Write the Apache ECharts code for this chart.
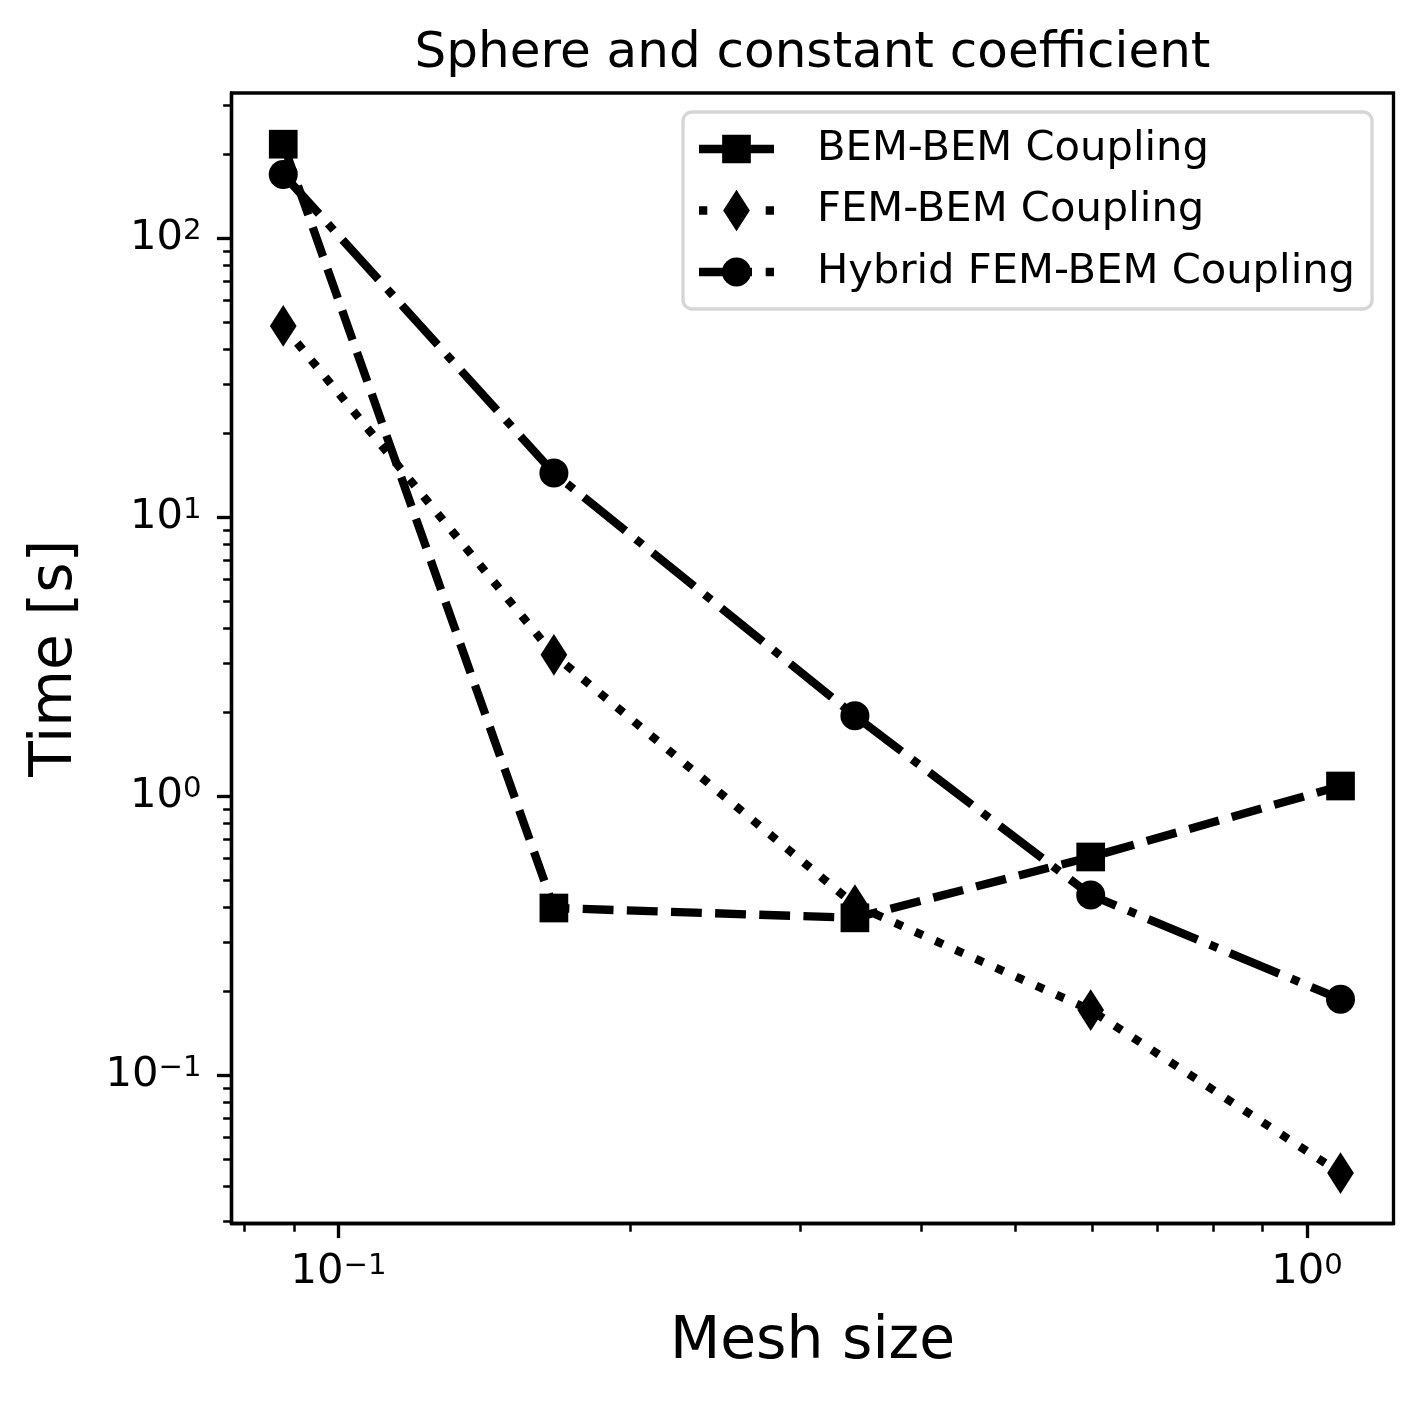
<!DOCTYPE html>
<html><head><meta charset="utf-8">
<script src="https://cdn.jsdelivr.net/npm/echarts@6/dist/echarts.min.js"></script>
<style>html,body{margin:0;padding:0;background:#fff}#c{width:1423px;height:1401px}</style>
</head><body><div id="c"></div>
<script>
// ---- data ----
const meshSize = [0.0877, 0.1669, 0.3414, 0.598, 1.083];
const bemBem   = [217.5, 0.397, 0.366, 0.605, 1.087];
const femBem   = [48.5, 3.21, 0.407, 0.171, 0.0445];
const hybrid   = [169.5, 14.4, 1.94, 0.442, 0.187];
const seriesNames = ['BEM-BEM Coupling', 'FEM-BEM Coupling', 'Hybrid FEM-BEM Coupling'];
const xMajorTicks = [0.1, 1];
const xMinorTicks = [0.08, 0.09, 0.2, 0.3, 0.4, 0.5, 0.6, 0.7, 0.8, 0.9];
const yMajorTicks = [0.1, 1, 10, 100];
const yMinorTicks = [0.03, 0.04, 0.05, 0.06, 0.07, 0.08, 0.09,
                     0.2, 0.3, 0.4, 0.5, 0.6, 0.7, 0.8, 0.9,
                     2, 3, 4, 5, 6, 7, 8, 9,
                     20, 30, 40, 50, 60, 70, 80, 90, 200, 300];
const xRange = [0.07755, 1.2284];
const yRange = [0.02935, 331.9];

// ---- styling ----
const PT = 300 / 72;
const FONT = 'DejaVu Sans';
const LW = 2 * PT;
const pairs = ys => meshSize.map((x, i) => [x, ys[i]]);

function powLabel(v) {
  const e = Math.round(Math.log10(v));
  return '{b|10}{s|' + String(e).replace('-', '\u2212') + '}';
}
const richLabel = {
  b: { fontFamily: FONT, fontSize: 10 * PT, lineHeight: 42, color: '#000' },
  s: { fontFamily: FONT, fontSize: 7 * PT, lineHeight: 17, verticalAlign: 'top', color: '#000' }
};

// legend handle icons (line sample + marker), 75px wide
const iconBem = 'path://M0,-4.15L31,-4.15L31,4.15L0,4.15Z M23.15,-14.35L51.85,-14.35L51.85,14.35L23.15,14.35Z M44,-4.15L75,-4.15L75,4.15L44,4.15Z';
const iconFem = 'path://M0,-4.15L8.3,-4.15L8.3,4.15L0,4.15Z M37.5,-20.85L50.85,0L37.5,20.85L24.15,0Z M66.7,-4.15L75,-4.15L75,4.15L66.7,4.15Z';
const iconHyb = 'path://M0,-4.15L53,-4.15L53,4.15L0,4.15Z M23,0A14.5,14.5 0 1,1 52,0A14.5,14.5 0 1,1 23,0Z M66.7,-4.15L75,-4.15L75,4.15L66.7,4.15Z';

const axisCommon = { type: 'log', logBase: 10 };
const chart = echarts.init(document.getElementById('c'), null, { renderer: 'canvas' });
chart.setOption({
  backgroundColor: '#fff',
  animation: false,
  title: {
    text: 'Sphere and constant coefficient',
    left: 812.5, top: 29, textAlign: 'center', padding: 0,
    textStyle: { fontFamily: FONT, fontSize: 12 * PT, fontWeight: 'normal', color: '#000' }
  },
  grid: {
    left: 231.5, right: 29.5, top: 93, bottom: 177.5,
    show: true, borderColor: '#000', borderWidth: 0.8 * PT, backgroundColor: 'transparent'
  },
  legend: {
    left: 683, top: 112, orient: 'vertical',
    padding: [16, 17, 16, 16],
    itemWidth: 75, itemHeight: 42, itemGap: 19.5,
    symbolKeepAspect: true,
    selectedMode: false,
    backgroundColor: '#fff',
    borderColor: '#d6d6d6', borderWidth: 0.8 * PT, borderRadius: 9,
    itemStyle: { borderWidth: 0 },
    textStyle: { fontFamily: FONT, fontSize: 10 * PT, color: '#000', lineHeight: 42, padding: [0, 0, 0, 38] },
    data: [
      { name: seriesNames[0], icon: iconBem },
      { name: seriesNames[1], icon: iconFem },
      { name: seriesNames[2], icon: iconHyb }
    ]
  },
  xAxis: [
    Object.assign({}, axisCommon, {
      min: xRange[0], max: xRange[1], position: 'bottom',
      name: 'Mesh size', nameLocation: 'middle', nameGap: 90,
      nameTextStyle: { fontFamily: FONT, fontSize: 14 * PT, color: '#000' },
      axisLine: { show: true, lineStyle: { color: '#000', width: 0.8 * PT } },
      axisTick: { show: true, customValues: xMajorTicks, length: 3.5 * PT, lineStyle: { color: '#000', width: 0.8 * PT } },
      axisLabel: { show: true, customValues: xMajorTicks, margin: 28, formatter: powLabel, rich: richLabel },
      splitLine: { show: false }, minorTick: { show: false }
    }),
    Object.assign({}, axisCommon, {
      min: xRange[0], max: xRange[1], position: 'bottom',
      axisLine: { show: false },
      axisTick: { show: true, customValues: xMinorTicks, length: 2 * PT, lineStyle: { color: '#000', width: 0.6 * PT } },
      axisLabel: { show: false },
      splitLine: { show: false }
    })
  ],
  yAxis: [
    Object.assign({}, axisCommon, {
      min: yRange[0], max: yRange[1], position: 'left',
      name: 'Time [s]', nameLocation: 'middle', nameGap: 147,
      nameTextStyle: { fontFamily: FONT, fontSize: 14 * PT, color: '#000' },
      axisLine: { show: true, lineStyle: { color: '#000', width: 0.8 * PT } },
      axisTick: { show: true, customValues: yMajorTicks, length: 3.5 * PT, lineStyle: { color: '#000', width: 0.8 * PT } },
      axisLabel: { show: true, customValues: yMajorTicks, margin: 30, formatter: powLabel, rich: richLabel },
      splitLine: { show: false }, minorTick: { show: false }
    }),
    Object.assign({}, axisCommon, {
      min: yRange[0], max: yRange[1], position: 'left', offset: 0,
      axisLine: { show: false },
      axisTick: { show: true, customValues: yMinorTicks, length: 2 * PT, lineStyle: { color: '#000', width: 0.6 * PT } },
      axisLabel: { show: false },
      splitLine: { show: false }
    })
  ],
  series: [
    {
      name: seriesNames[0], type: 'line', data: pairs(bemBem),
      xAxisIndex: 0, yAxisIndex: 0,
      symbol: 'rect', symbolSize: 28.7,
      color: '#000', itemStyle: { color: '#000', borderWidth: 0 },
      lineStyle: { color: '#000', width: LW, type: [3.7 * LW, 1.6 * LW], cap: 'butt', join: 'round' }
    },
    {
      name: seriesNames[1], type: 'line', data: pairs(femBem),
      xAxisIndex: 0, yAxisIndex: 0,
      symbol: 'diamond', symbolSize: [26.7, 41.7],
      color: '#000', itemStyle: { color: '#000', borderWidth: 0 },
      lineStyle: { color: '#000', width: LW, type: [1 * LW, 1.65 * LW], cap: 'butt', join: 'round' }
    },
    {
      name: seriesNames[2], type: 'line', data: pairs(hybrid),
      xAxisIndex: 0, yAxisIndex: 0,
      symbol: 'circle', symbolSize: 29,
      color: '#000', itemStyle: { color: '#000', borderWidth: 0 },
      lineStyle: { color: '#000', width: LW, type: [6.4 * LW, 1.6 * LW, 1 * LW, 1.6 * LW], cap: 'butt', join: 'round' }
    }
  ]
});
</script></body></html>
